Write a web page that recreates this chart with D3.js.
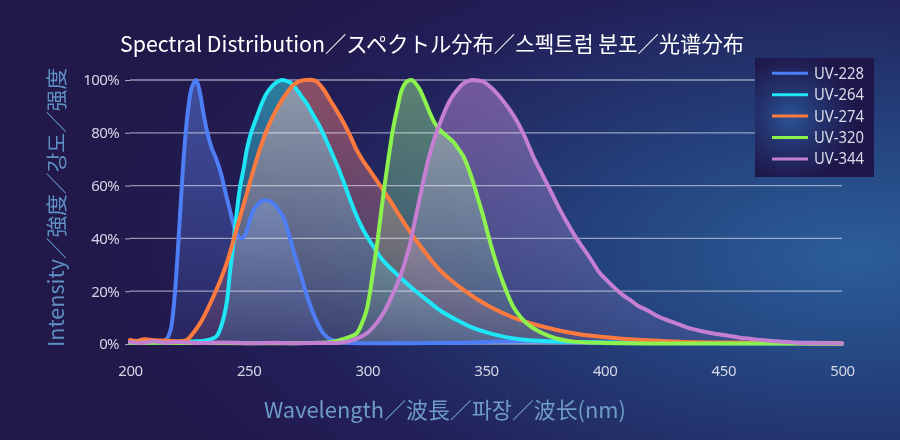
<!DOCTYPE html>
<html>
<head>
<meta charset="utf-8">
<script src="https://cdn.jsdelivr.net/npm/d3@7"></script>
<style>
  html, body { margin: 0; padding: 0; background: #221a4c; }
  svg { display: block; }
  .fill { mix-blend-mode: screen; }
</style>
</head>
<body>
<svg id="chart" width="900" height="440"></svg>
<script>
// ---------- DATA ----------
const titleText = "Spectral Distribution／スペクトル分布／스펙트럼 분포／光谱分布";
const yLabelText = "Intensity／強度／강도／强度";
const xLabelText = "Wavelength／波長／파장／波长(nm)";
const seriesNames = ["UV-228", "UV-264", "UV-274", "UV-320", "UV-344"];
const seriesColors = ["#4d7ef5", "#1ee6f6", "#ff7a3e", "#8cf24e", "#c47fd2"];
const xTicks = [200, 250, 300, 350, 400, 450, 500];
const yTicks = [0, 20, 40, 60, 80, 100];

const uv228 = [[200,0.9],[204,1.2],[208,0.7],[212,1.0],[215,1.5],[217,5],[218.5,15],[220,33],[221.5,55],[223,75],[224.5,89],[226,97],[227.8,100],[229.3,96],[231,87],[232.6,80],[234.5,74],[236.5,69.7],[238.5,64],[240,58.3],[242,51],[243.5,45.7],[245.5,41],[247.3,40],[249,42.5],[250.5,47],[252,50.7],[254,53],[256,54.3],[258,54.4],[260,53.5],[262.5,51],[264.6,48],[266.8,42],[268.8,35.6],[271,29],[273,23],[275,17],[277.2,11.6],[279.5,7],[281.5,4],[284,2],[287,1],[292,0.5],[300,0.3],[320,0.3],[340,0.5],[355,0.9],[370,1.0],[385,0.7],[400,0.5],[430,0.3],[470,0.3],[485,0.6],[500,0.2]];

const uv264 = [[200,0.8],[210,0.7],[220,0.8],[228,1],[233,1.5],[236.5,3],[238.5,7],[240.7,15.4],[242,26],[243.5,38],[245,50],[246.4,59.6],[248,67],[249.2,73.5],[251,80],[253.4,86],[255.5,91],[257.6,95],[260,97.8],[262,99.3],[263.9,100],[266,99.6],[268.1,98.7],[270.5,96],[272.5,93.5],[274.5,91],[277,87],[280,82.3],[283,76.5],[285.7,71],[288.5,65],[291.3,58.3],[294.1,51.5],[297,45.5],[300,40.5],[303,36.3],[306,32.3],[310,28.5],[313.8,25.3],[319,21],[325,16.7],[331,12.5],[337.7,9.1],[344,6.3],[351.7,4],[359,2.5],[367.2,1.5],[380,0.9],[400,0.6],[430,0.4],[460,0.3],[500,0.2]];

const uv274 = [[200,1.5],[203,1.1],[206,1.8],[210,1.4],[215,1.3],[220,1.0],[223.9,1.5],[226.5,4],[229.5,7.8],[232.3,12.5],[235.1,17.9],[238,24],[240.7,30.5],[243.5,39],[246.4,48.2],[249.2,57],[252,65.9],[254.8,74],[257.6,81],[260.4,86.5],[263.2,91.2],[266,95],[268.8,98.1],[271.5,99.6],[274.5,100],[277,100],[278.7,99.4],[281.5,96.5],[284.3,92.4],[287,88.5],[289.9,84],[292.7,79],[295.5,73.5],[298.3,69.3],[301.1,65.7],[305.4,60],[309.6,54.3],[316.6,44.4],[323.6,35.6],[330.6,28],[340.5,20.5],[351.7,14.1],[364.3,9.1],[379.8,5.3],[390,3.6],[398,2.8],[410.7,1.8],[431.8,0.9],[460,0.5],[500,0.3]];

const uv320 = [[200,0.5],[220,0.4],[250,0.3],[270,0.3],[285,0.8],[288.5,1.5],[292,2.5],[295.5,4],[297.8,8],[299.7,12.9],[301.2,20],[302.5,28],[304,37],[305.4,47],[306.8,57],[308.2,65.9],[309.6,74.5],[311,82.3],[312.7,89.5],[314.5,96.2],[316.5,99.3],[318.7,100],[320.5,98.5],[322.2,96.2],[324.3,92],[326.4,87.4],[328.5,83.5],[330.6,81],[333.4,78.8],[336.2,76.6],[338.3,74],[340.5,71],[342.6,66.5],[344.7,60.9],[346.8,54.5],[348.9,48.2],[351,41],[353.1,34.3],[355.2,28.3],[357.3,23],[359.4,18.2],[361.5,14.1],[364.3,10.5],[367.2,7.8],[371.4,5.2],[375.6,3.4],[381,1.8],[386.8,0.9],[400,0.4],[450,0.2],[500,0.1]];

const uv344 = [[200,0.8],[205,0.4],[210,1.0],[215,0.5],[220,0.8],[230,0.4],[240,0.6],[250,0.3],[260,0.5],[270,0.3],[280,0.4],[288,0.5],[292,1],[296,2.2],[299.7,4],[303.5,7.5],[306.7,11.6],[310,17.5],[313.8,25.5],[316,31.5],[318,38],[320,46.5],[322.2,55.8],[324.3,64.5],[326.4,72.2],[328.5,78.5],[330.6,83.6],[332.8,88.5],[334.9,92.4],[337.7,96],[340.5,98.7],[342.6,99.7],[344.7,100],[346.8,99.8],[348.9,99.4],[351.7,97.5],[354.5,95],[357.3,92],[360.1,88.6],[363,84.5],[365.7,79.8],[367.8,75.5],[369.9,71],[372.7,66],[375.6,60.9],[378.4,55.8],[381.2,50.8],[384,46.3],[386.8,41.9],[389.6,38],[392.5,34.3],[395.3,30.5],[398,26.8],[400.5,24.5],[403.7,21.7],[407,19],[410.7,16.7],[414,14.5],[417.7,12.9],[422,10.7],[426.1,9.1],[431,7.5],[436,5.9],[441,4.8],[445.8,4.0],[451,3.3],[457,2.4],[462,1.9],[468.3,1.3],[474,0.9],[480.9,0.5],[490,0.3],[500,0.2]];

const seriesData = [uv228, uv264, uv274, uv320, uv344];

// ---------- CHART ----------
const svg = d3.select("#chart");
const W = 900, H = 440;
const x = d3.scaleLinear().domain([200, 500]).range([130, 842]);
const y = d3.scaleLinear().domain([0, 100]).range([344, 80]);

const defs = svg.append("defs");
const bg = defs.append("radialGradient").attr("id", "bg")
  .attr("cx", 0.95).attr("cy", 0.58).attr("r", 0.85);
bg.append("stop").attr("offset", 0).attr("stop-color", "#2b5e9a");
bg.append("stop").attr("offset", 0.35).attr("stop-color", "#24417c");
bg.append("stop").attr("offset", 0.75).attr("stop-color", "#221f58");
bg.append("stop").attr("offset", 1).attr("stop-color", "#22184a");

const lg = defs.append("radialGradient").attr("id", "legbg")
  .attr("cx", 0.3).attr("cy", 0.5).attr("r", 0.55);
lg.append("stop").attr("offset", 0).attr("stop-color", "#2a5496");
lg.append("stop").attr("offset", 0.5).attr("stop-color", "#23306a");
lg.append("stop").attr("offset", 1).attr("stop-color", "#1f174a");

seriesColors.forEach((c, i) => {
  const g = defs.append("linearGradient").attr("id", "fill" + i)
    .attr("gradientUnits", "userSpaceOnUse")
    .attr("x1", 0).attr("x2", 0).attr("y1", y(100)).attr("y2", y(0));
  g.append("stop").attr("offset", 0).attr("stop-color", c).attr("stop-opacity", 0.47);
  g.append("stop").attr("offset", 1).attr("stop-color", c).attr("stop-opacity", 0.1);
});

svg.append("rect").attr("width", W).attr("height", H).attr("fill", "url(#bg)");

// gridlines
svg.append("g").selectAll("line").data(yTicks).join("line")
  .attr("x1", x(200)).attr("x2", x(500))
  .attr("y1", d => y(d)).attr("y2", d => y(d))
  .attr("stroke", "rgba(225,228,240,0.6)").attr("stroke-width", 1.3);

// y axis
const yAxis = svg.append("g").attr("transform", `translate(${x(200)},0)`)
  .call(d3.axisLeft(y).tickValues(yTicks).tickSize(5).tickPadding(6).tickFormat(d => d + "%"));
yAxis.select(".domain").remove();
yAxis.selectAll("line").attr("stroke", "rgba(225,228,240,0.7)");
yAxis.selectAll("text").attr("fill", "#d4d6e6").attr("font-size", 15)
  .attr("font-family", "'Noto Sans', 'Noto Sans CJK JP', sans-serif").attr("letter-spacing", -0.6);

// x axis
const xAxis = svg.append("g").attr("transform", `translate(0,${y(0)})`)
  .call(d3.axisBottom(x).tickValues(xTicks).tickSize(0).tickPadding(21).tickFormat(d3.format("d")));
xAxis.select(".domain").remove();
xAxis.selectAll("text").attr("fill", "#d4d6e6").attr("font-size", 15)
  .attr("font-family", "'Noto Sans', 'Noto Sans CJK JP', sans-serif").attr("letter-spacing", -0.4);

// areas and lines
const curve = d3.curveCatmullRom.alpha(0.5);
const area = d3.area().x(d => x(d[0])).y0(y(0)).y1(d => y(d[1])).curve(curve);
const line = d3.line().x(d => x(d[0])).y(d => y(d[1])).curve(curve);

svg.append("g").selectAll("path").data(seriesData).join("path")
  .attr("class", "fill")
  .attr("d", area).attr("fill", (d, i) => `url(#fill${i})`);
svg.append("g").selectAll("path").data(seriesData).join("path")
  .attr("d", line).attr("fill", "none")
  .attr("stroke", (d, i) => seriesColors[i]).attr("stroke-width", 4)
  .attr("stroke-linejoin", "round").attr("stroke-linecap", "round");

// legend
const leg = svg.append("g");
leg.append("rect").attr("x", 755).attr("y", 58).attr("width", 119).attr("height", 119)
  .attr("fill", "url(#legbg)");
seriesNames.forEach((n, i) => {
  const yy = 73.3 + i * 21.4;
  leg.append("line").attr("x1", 772).attr("x2", 808).attr("y1", yy).attr("y2", yy)
    .attr("stroke", seriesColors[i]).attr("stroke-width", 3);
  leg.append("text").attr("x", 814).attr("y", yy + 5.5).text(n)
    .attr("fill", "#d8dbea").attr("font-size", 16)
    .attr("font-family", "'Noto Sans', 'Noto Sans CJK JP', sans-serif")
    .attr("textLength", 50).attr("lengthAdjust", "spacingAndGlyphs");
});

// title
svg.append("text").attr("x", 120).attr("y", 52).text(titleText)
  .attr("fill", "#ffffff").attr("font-size", 21.5)
  .attr("font-family", "'Noto Sans CJK JP', sans-serif")
  .attr("textLength", 624).attr("lengthAdjust", "spacingAndGlyphs");

// y label
svg.append("text").attr("transform", "translate(64,207.5) rotate(-90)")
  .attr("text-anchor", "middle").text(yLabelText)
  .attr("fill", "#5f90c4").attr("font-size", 21)
  .attr("font-family", "'Noto Sans CJK JP', sans-serif")
  .attr("textLength", 279).attr("lengthAdjust", "spacingAndGlyphs");

// x label
svg.append("text").attr("x", 445).attr("y", 418).attr("text-anchor", "middle").text(xLabelText)
  .attr("fill", "#6e9cc6").attr("font-size", 22)
  .attr("font-family", "'Noto Sans CJK JP', sans-serif")
  .attr("textLength", 362).attr("lengthAdjust", "spacingAndGlyphs");
</script>
</body>
</html>
